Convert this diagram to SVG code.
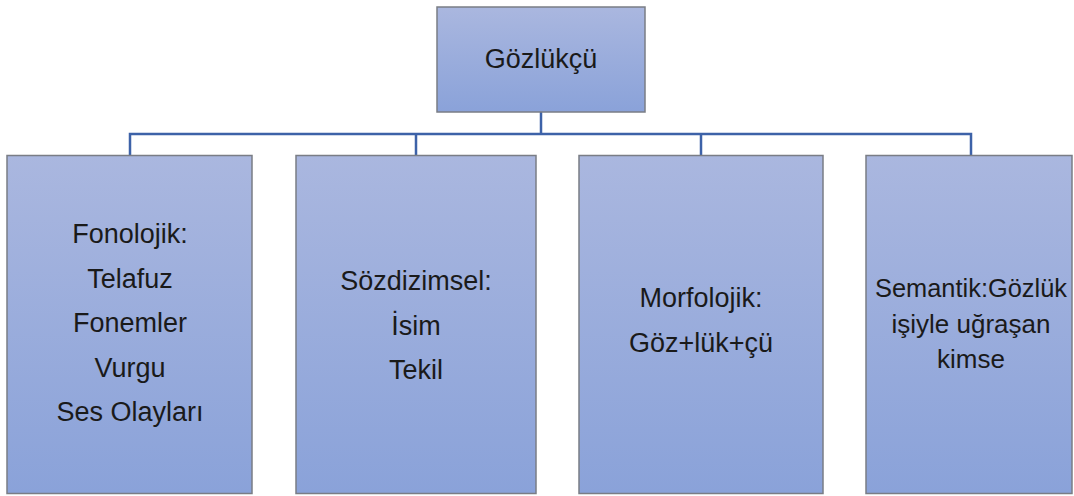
<svg xmlns="http://www.w3.org/2000/svg" width="1074" height="496" viewBox="0 0 1074 496">
<defs>
<linearGradient id="g" x1="0" y1="0" x2="0" y2="1">
<stop offset="0" stop-color="#aab7df"/>
<stop offset="1" stop-color="#8aa2d9"/>
</linearGradient>
<style>
.box{fill:url(#g);stroke:#7a7d85;stroke-width:1.5}
.t{font-family:"Liberation Sans",Arial,sans-serif;font-size:27px;fill:#1a1a1a;text-anchor:middle}
.s{font-size:26px}
.c{fill:none;stroke:#3d62a8;stroke-width:2.5}
</style>
</defs>
<rect width="1074" height="496" fill="#ffffff"/>
<g id="connectors">
<path class="c" d="M541 112V134M130 155V134H971V155M416 134V155M701 134V155"/>
</g>
<g id="root">
<rect class="box" x="437" y="7" width="208" height="105"/>
<text class="t" x="541" y="68">Gözlükçü</text>
</g>
<g id="fonolojik">
<rect class="box" x="7" y="155.5" width="245" height="338"/>
<text class="t" x="130" y="243">Fonolojik:</text>
<text class="t" x="130" y="287.5">Telafuz</text>
<text class="t" x="130" y="332">Fonemler</text>
<text class="t" x="130" y="376.5">Vurgu</text>
<text class="t" x="130" y="421">Ses Olayları</text>
</g>
<g id="sozdizimsel">
<rect class="box" x="296" y="155.5" width="240" height="338"/>
<text class="t" x="416" y="290">Sözdizimsel:</text>
<text class="t" x="416" y="335">İsim</text>
<text class="t" x="416" y="379">Tekil</text>
</g>
<g id="morfolojik">
<rect class="box" x="579" y="155.5" width="244" height="338"/>
<text class="t" x="701" y="307">Morfolojik:</text>
<text class="t" x="701" y="352">Göz+lük+çü</text>
</g>
<g id="semantik">
<rect class="box" x="866" y="155.5" width="206" height="338"/>
<text class="t s" x="971" y="297" textLength="192" lengthAdjust="spacingAndGlyphs">Semantik:Gözlük</text>
<text class="t s" x="971" y="333">işiyle uğraşan</text>
<text class="t s" x="971" y="368">kimse</text>
</g>
</svg>
